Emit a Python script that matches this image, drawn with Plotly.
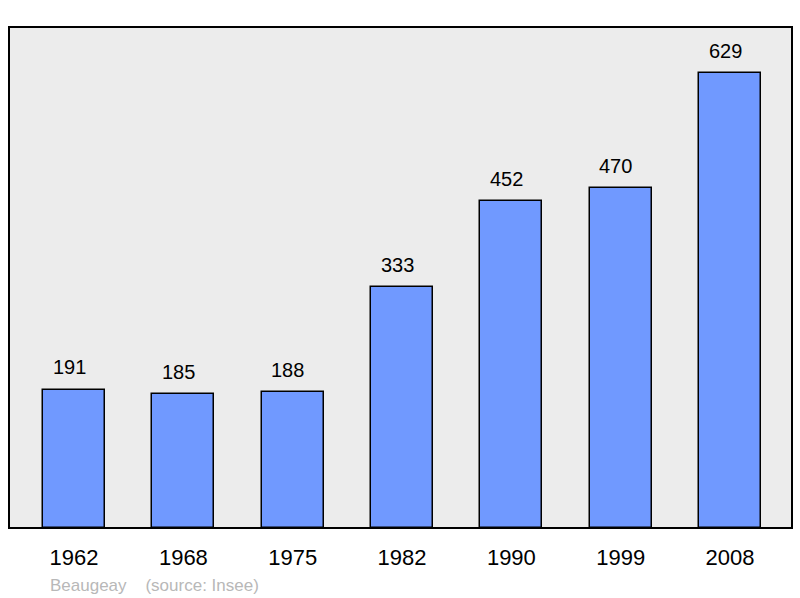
import plotly.graph_objects as go

years = ["1962", "1968", "1975", "1982", "1990", "1999", "2008"]
population = [191, 185, 188, 333, 452, 470, 629]
source_text = "Beaugeay\u00a0\u00a0\u00a0\u00a0(source: Insee)"

FONT = "Liberation Sans, Arial, sans-serif"

fig = go.Figure()
fig.add_trace(go.Bar(
    x=list(range(len(years))),
    y=population,
    width=0.567,
    marker=dict(color="#7099ff", line=dict(color="#000000", width=1.5)),
    hoverinfo="skip",
))

for i, v in enumerate(population):
    fig.add_annotation(x=i, y=v, text=str(v), showarrow=False, yanchor="middle",
                       xshift=-5, yshift=22.5, font=dict(family=FONT, size=20, color="#000000"))

fig.add_annotation(xref="paper", yref="paper", x=(48 - 9) / 783, y=-0.1138,
                   xanchor="left", yanchor="middle", text=source_text, showarrow=False,
                   font=dict(family=FONT, size=17, color="#b8b8b8"))

fig.add_shape(type="rect", xref="paper", yref="paper", x0=0, x1=1, y0=0, y1=1,
              line=dict(color="#000000", width=2), layer="above")

fig.update_layout(
    width=800, height=598,
    margin=dict(l=9, r=8, t=27, b=70),
    paper_bgcolor="#ffffff",
    plot_bgcolor="#ececec",
    showlegend=False,
    bargap=0,
    xaxis=dict(range=[-0.595, 6.567], tickmode="array", tickvals=list(range(len(years))),
               ticktext=years, showgrid=False, zeroline=False, ticks="outside",
               ticklen=10, tickcolor="rgba(0,0,0,0)",
               tickfont=dict(family=FONT, size=22, color="#000000")),
    yaxis=dict(range=[0, 692.6], showgrid=False, zeroline=False, showticklabels=False),
)

fig.write_html("out.html", config={"displayModeBar": False},
               post_script="document.body.style.margin='0';document.body.style.overflow='hidden';")
